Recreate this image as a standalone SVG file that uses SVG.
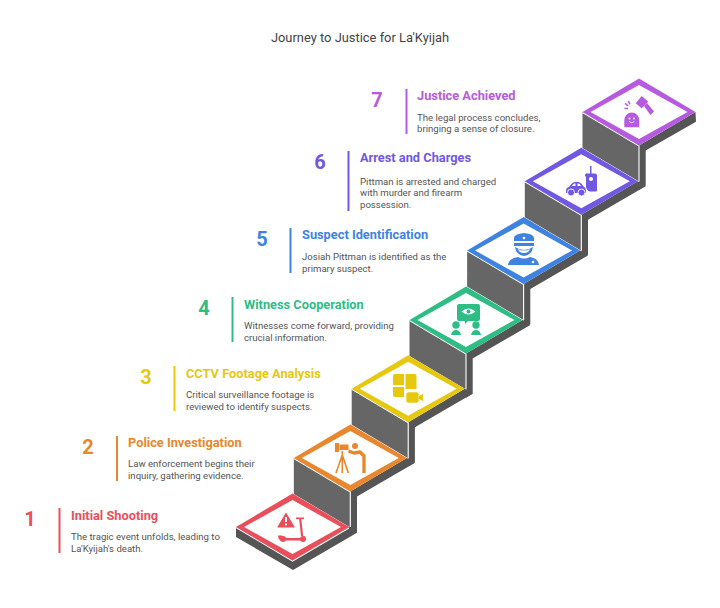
<svg xmlns="http://www.w3.org/2000/svg" width="720" height="608" viewBox="0 0 720 608">
<style>
text{font-family:Roboto,"Liberation Sans",sans-serif}
.ti{font-size:12.9px;fill:#444;text-anchor:middle}
.h{font-size:12.8px;font-weight:700}
.n{font-size:20px;font-weight:700;text-anchor:middle}
.b{font-size:9.6px;fill:#555}
.bar{stroke-width:2;fill:none}
.wall{fill:#666}
.base{fill:#555}
.w{fill:#fff}
.wl{fill:none;stroke:#fff;stroke-width:1.1}
.r{fill:#e94f5b;color:#e94f5b}.o{fill:#e8872d;color:#e8872d}.y{fill:#e6c80f;color:#e6c80f}.g{fill:#2ebd85;color:#2ebd85}.bl{fill:#3f83e0;color:#3f83e0}.p{fill:#7158e2;color:#7158e2}.m{fill:#b65ae0;color:#b65ae0}
.bar{stroke:currentColor}
.ln{fill:none;stroke:currentColor}
</style>
<defs>
<g id="top">
<polygon points="0,-33.5 56.5,0 0,33.5 -56.500,0"/>
<polygon class="w" points="0,-27 48.500,0 0,27 -48.500,0"/>
</g>
<g id="riser">
<polygon class="base" points="0,33.5 56.500,0 64.300,5 6.700,38.500 6.700,73.700 0,77.700"/>
<polygon class="wall" points="-56.500,0 0,33.500 0,69.500 -56.500,36"/>
<polyline class="wl" points="-56.500,0.500 0,34 0,69.500"/>
</g>
</defs>
<text class="ti" x="360" y="42">Journey to Justice for La'Kyijah</text>

<g id="connectors">
<use href="#riser" x="581.300" y="181.300"/>
<use href="#riser" x="523.600" y="250.500"/>
<use href="#riser" x="466" y="320"/>
<use href="#riser" x="408.200" y="388.700"/>
<use href="#riser" x="350.300" y="458"/>
<g id="riser-top">
<polygon class="base" points="639,145.500 695.500,112 696,121.700 645.700,150.500 645.700,185.700 639,189.700"/>
<polygon class="wall" points="582.500,112 639,145.500 639,181.500 582.500,148"/>
<polyline class="wl" points="582.500,112.500 639,146 639,181.500"/>
</g>
<g id="base">
<polygon class="base" points="236,527 236,537 293,570 357,532.700 357,527 349,527 292.500,560.500"/>
<polyline class="wl" points="236,527.500 292.500,561 349,528"/>
</g>
</g>

<g id="step-7">
<use href="#top" class="m" x="639" y="112"/>
<g class="m">
<path d="M624.300,127.300 V120 a7.500,7.500 0 0 1 15,0 V127.300 Z"/>
<circle class="w" cx="629.500" cy="118.500" r="0.900"/><circle class="w" cx="634" cy="118.500" r="0.900"/>
<path d="M629,121.500 q2.700,2.500 5.400,0" fill="none" stroke="#fff" stroke-width="0.800"/>
<path d="M641.700,96 L648.300,101.700 L641.700,108.300 L635.700,103.300 Z"/>
<path d="M644,106 L647,103 L654,111.500 L650.500,115 Z"/>
<path class="ln" stroke-width="1.500" d="M625,103.300 l3.300,2.700 M628.300,101 l1.700,3.300 M624.500,108.500 l3.500,0"/>
</g>
</g>
<g id="step-6">
<use href="#top" class="p" x="581.300" y="181.300"/>
<g class="p">
<path d="M586,177 a2,2 0 0 1 2,-3.500 h7 a2,2 0 0 1 2,2 V190.500 a1,1 0 0 1 -1,1 H589.500 q-3.500,-2 -3.500,-5 Z"/>
<rect x="590" y="166" width="1.500" height="8"/>
<circle class="w" cx="591" cy="179" r="2"/>
<path d="M566,191 q0,-3.500 3.500,-4.500 q2.500,-4.800 7,-4.800 q4.500,0 7,4.800 q2.500,1 2.500,4.500 v2 H566 Z"/>
<path class="w" d="M572,186 q1,-2.500 3.500,-2.700 v2.700 Z M577.500,183.300 q2.500,0.200 3.500,2.700 h-3.500 Z"/>
<circle cx="571" cy="192.500" r="3.500" stroke="#fff" stroke-width="0.900"/><circle cx="581.500" cy="192.500" r="3.500" stroke="#fff" stroke-width="0.900"/>
</g>
</g>
<g id="step-5">
<use href="#top" class="bl" x="523.600" y="250.500"/>
<g class="bl">
<path d="M514,241 v-3 q0,-4 10,-5 q10,1 10,5 v3 Z"/>
<path d="M514,243 h20 v3 h-20 Z"/>
<path d="M515,247 q9,6 18,0 q-1,8 -9,9 q-8,-1 -9,-9 Z"/>
<path class="w" d="M518,249 q6,3 12,0 q-1,4 -6,4 q-5,0 -6,-4 Z"/>
<path d="M508,265 q1,-7 10,-8 q6,3 12,0 q8,1 9,8 Z"/>
<circle class="w" cx="533" cy="262" r="1.300"/>
<circle class="w" cx="524" cy="238" r="1.300"/>
</g>
</g>
<g id="step-4">
<use href="#top" class="g" x="466" y="320"/>
<g class="g">
<path d="M459,304 h19 a2,2 0 0 1 2,2 v13 a2,2 0 0 1 -2,2 h-10 l-3,3 v-3 h-6 a2,2 0 0 1 -2,-2 v-13 a2,2 0 0 1 2,-2 Z"/>
<path class="w" d="M461.500,311.500 q7,-6 14,0 q-7,6 -14,0 Z"/>
<circle class="g" cx="468.500" cy="311.500" r="2"/>
<circle cx="456" cy="325" r="3.700"/><circle cx="476" cy="325" r="3.700"/>
<path d="M451,335 q1,-5 5,-5 q4,0 5,5 Z"/><path d="M471,335 q1,-5 5,-5 q4,0 5,5 Z"/>
</g>
</g>
<g id="step-3">
<use href="#top" class="y" x="408.200" y="388.700"/>
<g class="y">
<path d="M393,376 a2,2 0 0 1 2,-2 h9 v11 h-11 Z"/>
<path d="M405.500,374 h9 a2,2 0 0 1 2,2 v13 h-11 Z"/>
<path d="M393,387 h11 v10 h-9 a2,2 0 0 1 -2,-2 Z"/>
<rect x="406" y="392" width="13" height="11" rx="2.500" stroke="#fff" stroke-width="0.600"/>
<path d="M419,396 l4,-2 v7 l-4,-2 Z"/>
</g>
</g>
<g id="step-2">
<use href="#top" class="o" x="350.300" y="458"/>
<g class="o">
<rect x="335" y="443" width="4" height="9"/>
<rect x="339.500" y="444.500" width="9" height="5.500"/>
<path class="ln" stroke-width="1.600" d="M342.300,451 V473 M342.300,455 L336,473 M342.300,455 L348.300,473"/>
<circle cx="355" cy="446" r="3"/>
<path class="ln" stroke-width="3.300" stroke-linejoin="round" d="M348.500,451 L354,453 L360,452 L364,456 V473"/>
</g>
</g>
<g id="step-1">
<use href="#top" class="r" x="292.500" y="527"/>
<g class="r">
<path d="M286,513.500 l8,13.500 h-16 Z" stroke="#e94f5b" stroke-width="1.200" stroke-linejoin="round"/>
<rect class="w" x="285" y="517" width="2" height="5"/><circle class="w" cx="286" cy="524.500" r="1.100"/>
<rect x="296" y="517.500" width="8" height="1.700"/>
<path d="M299,518 h2.200 l2,18 h-2.200 Z"/>
<path d="M278,535.500 h4 q2,2.500 6,2.500 h14 l3,-2 v4.500 h-24 q-3,-1 -3,-5 Z"/>
<circle cx="283" cy="539" r="3"/><circle cx="303" cy="539" r="3"/>
</g>
</g>

<g id="label-1"><text class="n r" x="30" y="526">1</text><line class="bar r" x1="59.500" y1="508" x2="59.500" y2="553"/><text class="h r" x="71" y="520">Initial Shooting</text><text class="b" x="71" y="540">The tragic event unfolds, leading to</text><text class="b" x="71" y="552">La'Kyijah's death.</text></g>
<g id="label-2"><text class="n o" x="88" y="454">2</text><line class="bar o" x1="117" y1="436" x2="117" y2="481"/><text class="h o" x="128" y="447">Police Investigation</text><text class="b" x="128" y="467">Law enforcement begins their</text><text class="b" x="128" y="479">inquiry, gathering evidence.</text></g>
<g id="label-3"><text class="n y" x="146" y="384">3</text><line class="bar y" x1="174.500" y1="366" x2="174.500" y2="411"/><text class="h y" x="186" y="378">CCTV Footage Analysis</text><text class="b" x="186" y="398">Critical surveillance footage is</text><text class="b" x="186" y="410">reviewed to identify suspects.</text></g>
<g id="label-4"><text class="n g" x="204" y="315">4</text><line class="bar g" x1="232.500" y1="297" x2="232.500" y2="342"/><text class="h g" x="244" y="309">Witness Cooperation</text><text class="b" x="244" y="329">Witnesses come forward, providing</text><text class="b" x="244" y="341">crucial information.</text></g>
<g id="label-5"><text class="n bl" x="262" y="246">5</text><line class="bar bl" x1="290.500" y1="228" x2="290.500" y2="273"/><text class="h bl" x="302" y="239">Suspect Identification</text><text class="b" x="302" y="260">Josiah Pittman is identified as the</text><text class="b" x="302" y="272">primary suspect.</text></g>
<g id="label-6"><text class="n p" x="320" y="169">6</text><line class="bar p" x1="348.500" y1="151" x2="348.500" y2="211"/><text class="h p" x="360" y="162">Arrest and Charges</text><text class="b" x="360" y="185">Pittman is arrested and charged</text><text class="b" x="360" y="196">with murder and firearm</text><text class="b" x="360" y="208">possession.</text></g>
<g id="label-7"><text class="n m" x="377" y="107">7</text><line class="bar m" x1="406.500" y1="89" x2="406.500" y2="134"/><text class="h m" x="417" y="100">Justice Achieved</text><text class="b" x="417" y="121">The legal process concludes,</text><text class="b" x="417" y="132">bringing a sense of closure.</text></g>
</svg>
